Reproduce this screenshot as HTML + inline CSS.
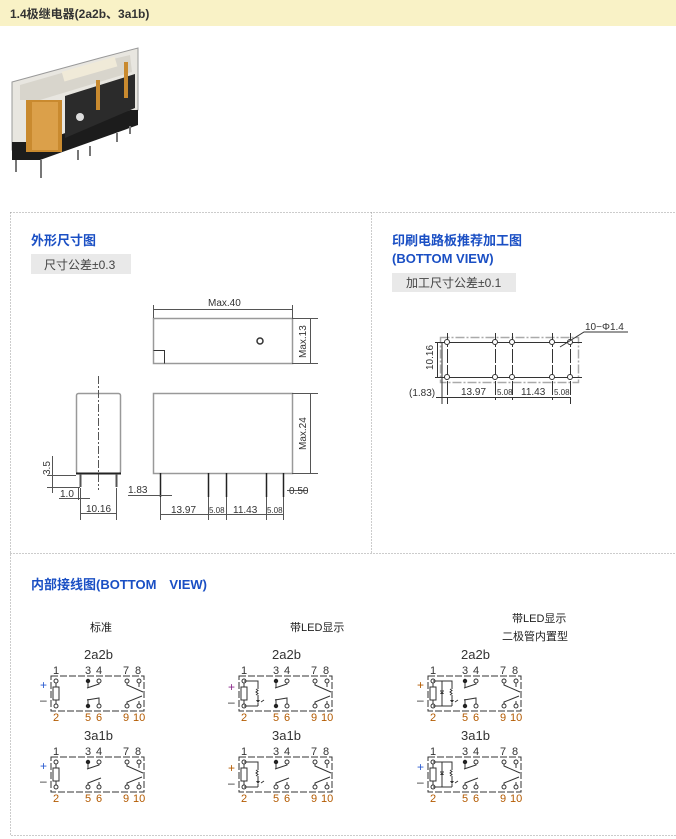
<!DOCTYPE html>
<html><head><meta charset="utf-8"><style>
html,body{margin:0;padding:0;background:#fff;width:676px;height:839px;overflow:hidden}
svg{display:block;font-family:"Liberation Sans","Noto Sans CJK SC",sans-serif}
.d{fill:#333;font-size:10px}
.p{font-size:11px;fill:#333}
.o{font-size:11px;fill:#b35a00}
</style></head><body>
<svg width="676" height="839" viewBox="0 0 676 839" xmlns="http://www.w3.org/2000/svg">
<defs>
<g id="box">
<rect x="0" y="0" width="93" height="35" fill="none" stroke="#333" stroke-width="1" stroke-dasharray="7,2"/>
<g fill="#fff" stroke="#333" stroke-width="1">
<circle cx="5" cy="5" r="2"/><circle cx="48" cy="5" r="2"/><circle cx="76" cy="5" r="2"/><circle cx="88" cy="5" r="2"/>
<circle cx="5" cy="30" r="2"/><circle cx="48" cy="30" r="2"/><circle cx="76" cy="30" r="2"/><circle cx="88" cy="30" r="2"/>
</g>
<path d="M5 7V11M5 24V28M76 7V9L92 16M88 7V11M76 28V26L91 20M88 28V25" stroke="#333" fill="none"/>
<rect x="2" y="11" width="6" height="13" fill="#fff" stroke="#333"/>
</g>
<g id="c34nc"><circle cx="37" cy="5" r="2.2" fill="#222"/><path d="M37 7V12M36 12L48 8V7" stroke="#333" fill="none"/></g>
<g id="c56nc"><circle cx="37" cy="30" r="2.2" fill="#222"/><path d="M37 28V23M36 24L48 22V28" stroke="#333" fill="none"/></g>
<g id="c56no"><circle cx="37" cy="30" r="2" fill="#fff" stroke="#333"/><path d="M37 28V26L50 21M48 28V25" stroke="#333" fill="none"/></g>
<g id="led"><path d="M5 5H19V13M19 19V24M19 30H5" stroke="#333" fill="none"/><path d="M17 13l2 1.5-2 1.5 2 1.5-2 1.5" stroke="#333" fill="none"/><path d="M17 24h4l-2 3z" fill="#333"/><path d="M19 27V30M22 26l3-2" stroke="#333"/></g>
<g id="dio"><path d="M5 5H24V13M24 19V24M24 30H5M14 5V30" stroke="#333" fill="none"/><path d="M22 13l2 1.5-2 1.5 2 1.5-2 1.5" stroke="#333" fill="none"/><path d="M22 24h4l-2 3z M12 18h4l-2-3z" fill="#333"/><path d="M24 27V30M27 26l3-2M12 15h4" stroke="#333"/></g>
</defs>

<rect x="0" y="0" width="676" height="26" fill="#f9f2c6"/>
<text x="10" y="18" font-size="12" font-weight="bold" fill="#333">1.4极继电器(2a2b、3a1b)</text>

<!-- relay photo -->
<g>
<polygon points="12,82 100,58 138,48 138,110 120,115 40,150 12,150" fill="#e8e6e0" stroke="#999"/>
<polygon points="12,142 40,142 130,110 138,110 138,125 40,160 12,160" fill="#1c1c1c"/>
<polygon points="20,85 100,62 130,55 132,72 40,100 20,100" fill="#d8d5cc"/>
<rect x="62" y="64" width="55" height="10" fill="#f0ead8" transform="rotate(-16 90 69)"/>
<rect x="26" y="100" width="36" height="52" fill="#c98a2f"/>
<rect x="32" y="102" width="26" height="48" fill="#dba04a"/>
<rect x="62" y="88" width="70" height="40" fill="#2a2a2a" transform="skewY(-12)" opacity="0"/>
<polygon points="65,96 135,74 135,108 65,138" fill="#2b2b2b"/>
<rect x="96" y="80" width="4" height="30" fill="#c98a2f"/><rect x="124" y="62" width="4" height="36" fill="#c98a2f"/>
<circle cx="80" cy="117" r="4" fill="#ddd"/>
<path d="M16 160V172M41 160V178M78 150V160M90 146V156M117 133V142M130 126V134" stroke="#777" stroke-width="2"/>
</g>

<!-- outer dotted frame -->
<path d="M10.5 212.5H676M10.5 212.5V835.5H676M371.5 212.5V553.5M10.5 553.5H676" stroke="#999" stroke-dasharray="1,2" fill="none"/>

<text x="31" y="245" font-size="13" font-weight="bold" fill="#1a4fc4">外形尺寸图</text>
<rect x="31" y="254" width="100" height="20" fill="#e9e9e9"/>
<text x="44" y="269" font-size="12" fill="#444">尺寸公差±0.3</text>

<text x="392" y="245" font-size="13" font-weight="bold" fill="#1a4fc4">印刷电路板推荐加工图</text>
<text x="392" y="263" font-size="13" font-weight="bold" fill="#1a4fc4">(BOTTOM VIEW)</text>
<rect x="392" y="273" width="124" height="19" fill="#e9e9e9"/>
<text x="406" y="287" font-size="12" fill="#444">加工尺寸公差±0.1</text>

<!-- drawing 1 -->
<g stroke="#555" fill="none" stroke-width="1">
<rect x="153.5" y="318.5" width="139" height="45" stroke="#999" stroke-width="1.5"/>
<path d="M153.5 350.5H164.5V363.5" stroke="#333"/>
<circle cx="260" cy="341" r="3" stroke="#333" stroke-width="1.5"/>
<path d="M153.5 305V318M292.5 305V318M154 309.5H292"/>
<path d="M292 318.5H318M292 363.5H318M310.5 319V363"/>
<rect x="153.5" y="393.5" width="139" height="80" stroke="#999" stroke-width="1.5"/>
<path d="M292 393.5H318M292 473.5H318M310.5 394V473"/>
<path d="M160.5 473V497M208.5 473V497M226.5 473V497M266.5 473V497M283.5 473V497" stroke="#222" stroke-width="1.5"/>
<path d="M160.5 497V520M208.5 497V520M226.5 497V520M266.5 497V520M283.5 497V520M160 514.5H283"/>
<path d="M128 495.5H172M287 490.5H308"/>
<rect x="76.5" y="393.5" width="44" height="80" rx="2" stroke="#999" stroke-width="1.5"/>
<path d="M98.5 376V490" stroke-dasharray="8,2,2,2"/>
<path d="M76 473.5H121" stroke="#222" stroke-width="2"/>
<path d="M80.5 474V487M116.5 474V487" stroke="#555" stroke-width="2"/>
<path d="M47 475.5H76M47 487.5H80M52.5 456V493"/>
<path d="M59 498.5H90M80.5 488V520M116.5 488V520M80 513.5H116M78.5 488V500"/>
</g>
<text x="208" y="306" class="d">Max.40</text>
<text class="d" transform="translate(306,358) rotate(-90)">Max.13</text>
<text class="d" transform="translate(306,450) rotate(-90)">Max.24</text>
<text class="d" transform="translate(50,475) rotate(-90)">3.5</text>
<text x="60" y="497" class="d">1.0</text>
<text x="86" y="512" class="d">10.16</text>
<text x="128" y="493" class="d">1.83</text>
<text x="289" y="494" class="d">0.50</text>
<text x="171" y="513" class="d">13.97</text>
<text x="209" y="513" font-size="8" fill="#333">5.08</text>
<text x="233" y="513" class="d">11.43</text>
<text x="267" y="513" font-size="8" fill="#333">5.08</text>

<!-- drawing 2 -->
<g stroke="#333" fill="none">
<rect x="440.5" y="337.5" width="138" height="45" stroke="#aaa" stroke-width="1.5" stroke-dasharray="9,2,2,2"/>
<path d="M435 342.5H582M435 377.5H582"/>
<path d="M447.5 333V404M495.5 333V400M512.5 333V400M552.5 333V400M570.5 333V404" stroke-dasharray="14,2"/>
<path d="M437.5 342V377M442 342V404"/>
<g fill="#fff"><circle cx="447" cy="342" r="2.5"/><circle cx="495" cy="342" r="2.5"/><circle cx="512" cy="342" r="2.5"/><circle cx="552" cy="342" r="2.5"/><circle cx="570" cy="342" r="2.5"/>
<circle cx="447" cy="377" r="2.5"/><circle cx="495" cy="377" r="2.5"/><circle cx="512" cy="377" r="2.5"/><circle cx="552" cy="377" r="2.5"/><circle cx="570" cy="377" r="2.5"/></g>
<path d="M436 397.5H570M560 347L584 332H628"/>
</g>
<text x="585" y="330" class="d">10−Φ1.4</text>
<text class="d" transform="translate(433,370) rotate(-90)">10.16</text>
<text x="409" y="396" class="d">(1.83)</text>
<text x="461" y="395" class="d">13.97</text>
<text x="497" y="395" font-size="8" fill="#333">5.08</text>
<text x="521" y="395" class="d">11.43</text>
<text x="554" y="395" font-size="8" fill="#333">5.08</text>

<text x="31" y="589" font-size="13" font-weight="bold" fill="#1a4fc4">内部接线图(BOTTOM　VIEW)</text>
<text x="90" y="631" font-size="11" fill="#222">标准</text>
<text x="290" y="631" font-size="11" fill="#222">带LED显示</text>
<text x="512" y="622" font-size="11" fill="#222">带LED显示</text>
<text x="502" y="640" font-size="11" fill="#222">二极管内置型</text>

<!-- schematics -->
<g transform="translate(51,676)"><use href="#box"/><use href="#c34nc"/><use href="#c56nc"/></g>
<g transform="translate(51,757)"><use href="#box"/><use href="#c34nc"/><use href="#c56no"/></g>
<g transform="translate(239,676)"><use href="#box"/><use href="#led"/><use href="#c34nc"/><use href="#c56nc"/></g>
<g transform="translate(239,757)"><use href="#box"/><use href="#led"/><use href="#c34nc"/><use href="#c56no"/></g>
<g transform="translate(428,676)"><use href="#box"/><use href="#dio"/><use href="#c34nc"/><use href="#c56nc"/></g>
<g transform="translate(428,757)"><use href="#box"/><use href="#dio"/><use href="#c34nc"/><use href="#c56no"/></g>

<g font-size="13" fill="#333">
<text x="84" y="659">2a2b</text><text x="84" y="740">3a1b</text>
<text x="272" y="659">2a2b</text><text x="272" y="740">3a1b</text>
<text x="461" y="659">2a2b</text><text x="461" y="740">3a1b</text>
</g>

<g class="p">
<text x="53" y="674" class="p">1</text><text x="85" y="674" class="p">3</text><text x="96" y="674" class="p">4</text><text x="123" y="674" class="p">7</text><text x="135" y="674" class="p">8</text>
<text x="53" y="721" class="o">2</text><text x="85" y="721" class="o">5</text><text x="96" y="721" class="o">6</text><text x="123" y="721" class="o">9</text><text x="133" y="721" class="o">10</text>
<text x="53" y="755" class="p">1</text><text x="85" y="755" class="p">3</text><text x="96" y="755" class="p">4</text><text x="123" y="755" class="p">7</text><text x="135" y="755" class="p">8</text>
<text x="53" y="802" class="o">2</text><text x="85" y="802" class="o">5</text><text x="96" y="802" class="o">6</text><text x="123" y="802" class="o">9</text><text x="133" y="802" class="o">10</text>

<text x="241" y="674" class="p">1</text><text x="273" y="674" class="p">3</text><text x="284" y="674" class="p">4</text><text x="311" y="674" class="p">7</text><text x="323" y="674" class="p">8</text>
<text x="241" y="721" class="o">2</text><text x="273" y="721" class="o">5</text><text x="284" y="721" class="o">6</text><text x="311" y="721" class="o">9</text><text x="321" y="721" class="o">10</text>
<text x="241" y="755" class="p">1</text><text x="273" y="755" class="p">3</text><text x="284" y="755" class="p">4</text><text x="311" y="755" class="p">7</text><text x="323" y="755" class="p">8</text>
<text x="241" y="802" class="o">2</text><text x="273" y="802" class="o">5</text><text x="284" y="802" class="o">6</text><text x="311" y="802" class="o">9</text><text x="321" y="802" class="o">10</text>

<text x="430" y="674" class="p">1</text><text x="462" y="674" class="p">3</text><text x="473" y="674" class="p">4</text><text x="500" y="674" class="p">7</text><text x="512" y="674" class="p">8</text>
<text x="430" y="721" class="o">2</text><text x="462" y="721" class="o">5</text><text x="473" y="721" class="o">6</text><text x="500" y="721" class="o">9</text><text x="510" y="721" class="o">10</text>
<text x="430" y="755" class="p">1</text><text x="462" y="755" class="p">3</text><text x="473" y="755" class="p">4</text><text x="500" y="755" class="p">7</text><text x="512" y="755" class="p">8</text>
<text x="430" y="802" class="o">2</text><text x="462" y="802" class="o">5</text><text x="473" y="802" class="o">6</text><text x="500" y="802" class="o">9</text><text x="510" y="802" class="o">10</text>
</g>

<g font-size="12">
<text x="40" y="689" fill="#2a5bd0">+</text><text x="40" y="704" fill="#333">–</text>
<text x="40" y="770" fill="#2a5bd0">+</text><text x="40" y="785" fill="#333">–</text>
<text x="228" y="691" fill="#8b2a8b">+</text><text x="228" y="706" fill="#333">–</text>
<text x="228" y="772" fill="#b35a00">+</text><text x="228" y="787" fill="#333">–</text>
<text x="417" y="689" fill="#b35a00">+</text><text x="417" y="704" fill="#333">–</text>
<text x="417" y="771" fill="#2a5bd0">+</text><text x="417" y="786" fill="#333">–</text>
</g>
</svg>
</body></html>
